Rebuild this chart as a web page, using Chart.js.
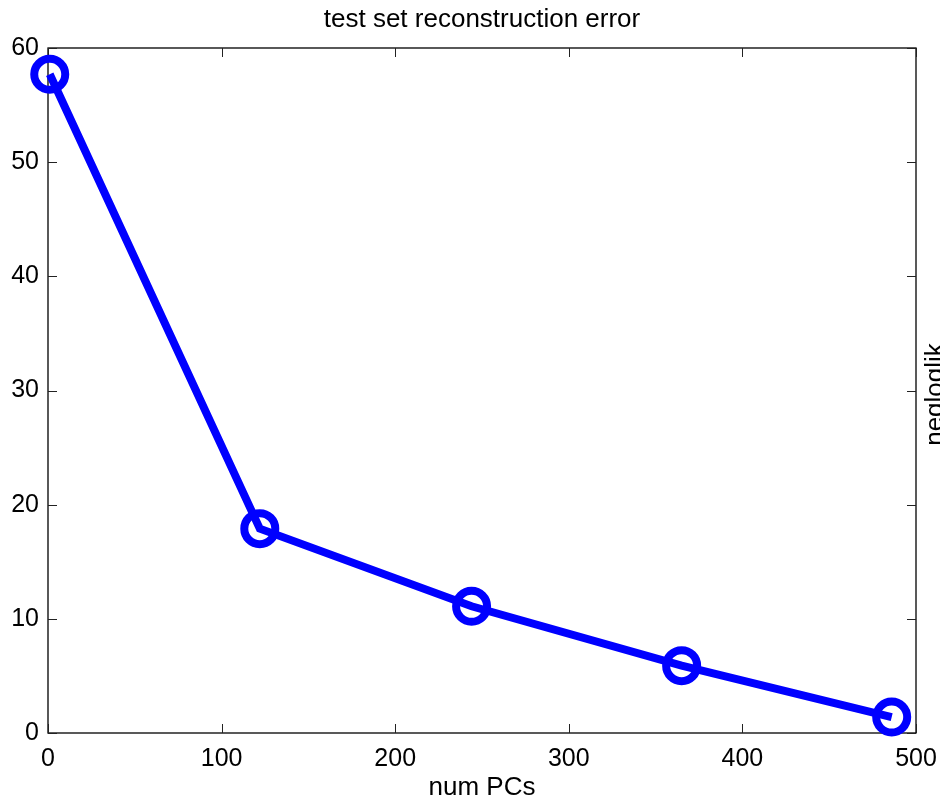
<!DOCTYPE html>
<html>
<head>
<meta charset="utf-8">
<script src="https://cdn.jsdelivr.net/npm/chart.js@4.4.1/dist/chart.umd.min.js"></script>
<style>
  html, body { margin: 0; padding: 0; background: #fff; }
  canvas { display: block; }
</style>
</head>
<body>
<canvas id="errChart" width="940" height="803"></canvas>
<script>
/* ── data ── */
var numPCs   = [1, 122, 244, 365, 486];
var errVals  = [57.7, 17.9, 11.1, 5.9, 1.4];
var xTicks   = [0, 100, 200, 300, 400, 500];
var yTicks   = [0, 10, 20, 30, 40, 50, 60];

var FONT = 'Liberation Sans, Arial, Helvetica, sans-serif';

/* ── frame + inward tick marks + title / right label ── */
var boxPlugin = {
  id: 'boxPlugin',
  beforeDatasetsDraw: function(chart) {
    var c = chart.ctx, a = chart.chartArea;
    var sx = chart.scales.x, sy = chart.scales.y;
    c.save();
    c.strokeStyle = '#000';
    c.lineWidth = 1.3;
    c.strokeRect(a.left, a.top, a.right - a.left, a.bottom - a.top);
    c.lineWidth = 1;
    c.strokeStyle = '#222';
    var tl = 9;
    c.beginPath();
    xTicks.forEach(function(v) {
      var px = Math.round(sx.getPixelForValue(v)) + 0.5;
      c.moveTo(px, a.bottom); c.lineTo(px, a.bottom - tl);
      c.moveTo(px, a.top);    c.lineTo(px, a.top + tl);
    });
    yTicks.forEach(function(v) {
      var py = Math.round(sy.getPixelForValue(v)) + 0.5;
      c.moveTo(a.left, py);  c.lineTo(a.left + tl, py);
      c.moveTo(a.right, py); c.lineTo(a.right - tl, py);
    });
    c.stroke();
    c.restore();
  },
  afterDraw: function(chart) {
    var c = chart.ctx, a = chart.chartArea;
    c.save();
    c.fillStyle = '#000';
    c.font = '26px ' + FONT;
    c.textAlign = 'center';
    c.textBaseline = 'alphabetic';
    c.fillText('test set reconstruction error', (a.left + a.right) / 2, 27);
    // right-hand axis label, rotated and partly off the canvas
    c.translate(943, (a.top + a.bottom) / 2 + 4);
    c.rotate(-Math.PI / 2);
    c.fillText('negloglik', 0, 0);
    c.restore();
  }
};

new Chart(document.getElementById('errChart').getContext('2d'), {
  type: 'line',
  data: {
    datasets: [{
      label: 'error',
      data: numPCs.map(function(x, i) { return { x: x, y: errVals[i] }; }),
      borderColor: '#0000ff',
      backgroundColor: 'rgba(0,0,0,0)',
      borderWidth: 8,
      tension: 0,
      fill: false,
      clip: false,
      pointStyle: 'circle',
      pointRadius: 15.5,
      pointBorderWidth: 8,
      pointBorderColor: '#0000ff',
      pointBackgroundColor: 'rgba(0,0,0,0)'
    }]
  },
  options: {
    responsive: false,
    animation: false,
    layout: { padding: { top: 48, right: 24, left: 0, bottom: 0 } },
    plugins: {
      legend: { display: false },
      tooltip: { enabled: false }
    },
    scales: {
      x: {
        type: 'linear',
        min: 0, max: 500,
        afterBuildTicks: function(s) { s.ticks = xTicks.map(function(v) { return { value: v }; }); },
        afterFit: function(s) { s.height = 70; s.paddingLeft = 0; s.paddingRight = 0; },
        grid: { display: false, drawTicks: false },
        border: { display: false },
        ticks: { color: '#000', font: { family: FONT, size: 25 }, padding: 11, maxRotation: 0 },
        title: {
          display: true, text: 'num PCs', color: '#000',
          font: { family: FONT, size: 26 }, padding: { top: 0, bottom: 0 }
        }
      },
      y: {
        type: 'linear',
        min: 0, max: 60,
        afterBuildTicks: function(s) { s.ticks = yTicks.map(function(v) { return { value: v }; }); },
        afterFit: function(s) { s.width = 48; s.paddingTop = 0; s.paddingBottom = 0; },
        grid: { display: false, drawTicks: false },
        border: { display: false },
        ticks: { color: '#000', font: { family: FONT, size: 25 }, padding: 9 }
      }
    }
  },
  plugins: [boxPlugin]
});
</script>
</body>
</html>
